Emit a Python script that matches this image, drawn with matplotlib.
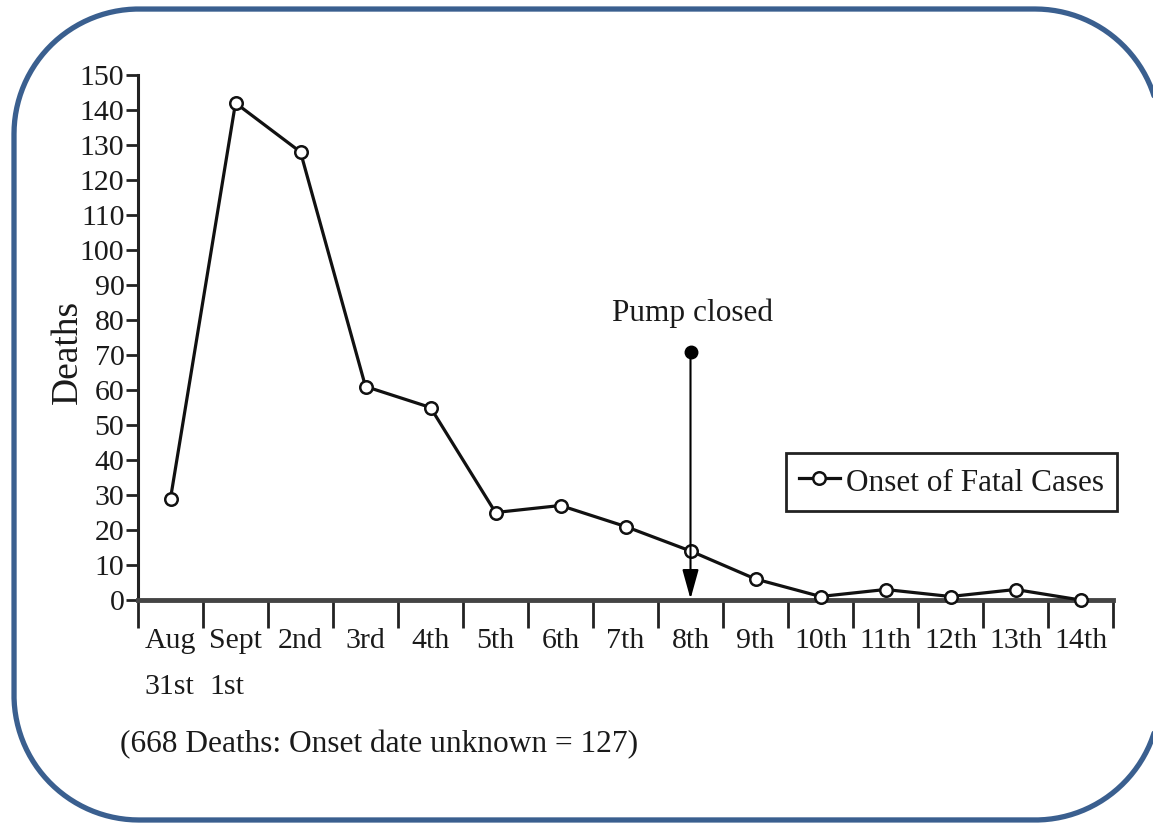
import matplotlib
matplotlib.use("Agg")
import matplotlib.pyplot as plt
import numpy as np

categories = ["Aug\n31st", "Sept\n1st", "2nd", "3rd", "4th", "5th", "6th", "7th",
              "8th", "9th", "10th", "11th", "12th", "13th", "14th"]
deaths = [29, 142, 128, 61, 55, 25, 27, 21, 14, 6, 1, 3, 1, 3, 0]
yticks = list(range(0, 151, 10))
pump_index = 8
pump_top = 71
pump_label_y = 82
series_label = "Onset of Fatal Cases"
note = "(668 Deaths: Onset date unknown = 127)"

plt.rcParams['font.family'] = ['Liberation Serif', 'DejaVu Serif']
txt = '#1a1a1a'

W, H = 1153, 824
fig = plt.figure(figsize=(W / 100, H / 100), dpi=100)

# background overlay for the rounded border (pixel units, origin bottom-left)
bg = fig.add_axes([0, 0, 1, 1], zorder=-1)
bg.set_xlim(0, W)
bg.set_ylim(0, H)
bg.axis('off')
L, R, B, T, r = 14, 1160, 4, 815, 125
px, py = [], []
for (cx, cy, a0) in [(R - r, T - r, 0), (L + r, T - r, 90), (L + r, B + r, 180), (R - r, B + r, 270)]:
    th = np.radians(np.linspace(a0, a0 + 90, 60))
    px.extend(cx + r * np.cos(th))
    py.extend(cy + r * np.sin(th))
px.append(px[0])
py.append(py[0])
bg.plot(px, py, color='#3a5f8f', lw=3.8, clip_on=False, solid_capstyle='round')

ax = fig.add_axes([138 / W, 224 / H, 975 / W, 525 / H])
ax.patch.set_alpha(0)

x = list(range(len(categories)))
ax.plot(x, deaths, color='#111111', lw=2.3, marker='o', ms=9, mfc='white',
        mec='#111111', mew=1.8, label=series_label, zorder=3, clip_on=False)

ax.set_xlim(-0.5, len(categories) - 0.5)
ax.set_ylim(0, 150)
ax.set_yticks(yticks)
ax.set_yticklabels([str(v) for v in yticks], fontsize=21.5, color=txt)
ax.tick_params(axis='y', length=9, width=2, pad=0.8, color='#222222')

ax.set_xticks(x)
ax.set_xticklabels(categories, fontsize=21.5, color=txt, multialignment='left',
                   linespacing=2.0)
ax.tick_params(axis='x', which='major', length=0, pad=20)
ax.set_xticks([i - 0.5 for i in range(len(categories) + 1)], minor=True)
ax.tick_params(axis='x', which='minor', length=20, width=2, color='#222222')

for s in ['top', 'right']:
    ax.spines[s].set_visible(False)
ax.spines['left'].set_linewidth(2.2)
ax.spines['left'].set_color('#222222')
ax.spines['bottom'].set_linewidth(3.5)
ax.spines['bottom'].set_color('#444444')

ax.set_ylabel("Deaths", fontsize=27, color=txt)
ax.yaxis.set_label_coords(-0.054, 0.472)

# Pump closed annotation
ax.plot([pump_index], [pump_top], marker='o', ms=9, color='black', zorder=4)
ax.annotate("", xy=(pump_index, 0.3), xytext=(pump_index, pump_top),
            arrowprops=dict(arrowstyle='-|>,head_length=1.8,head_width=0.5',
                            color='black', lw=1.5, shrinkA=0, shrinkB=0),
            zorder=4)
ax.text(pump_index + 0.03, pump_label_y, "Pump closed", fontsize=22.5, color=txt,
        ha='center', va='center')

leg = ax.legend(loc='upper right', bbox_to_anchor=(1.004, 0.28), borderaxespad=0,
                fancybox=False, fontsize=22.5, handlelength=1.3, handletextpad=0.2,
                handleheight=1.0, borderpad=0.42, framealpha=1)
leg.get_frame().set_edgecolor('#222222')
leg.get_frame().set_linewidth(2)
for t in leg.get_texts():
    t.set_color(txt)

fig.text(120 / W, 1 - 745 / H, note, fontsize=22.6, color=txt, ha='left', va='center')

fig.savefig("out.png", dpi=100)
